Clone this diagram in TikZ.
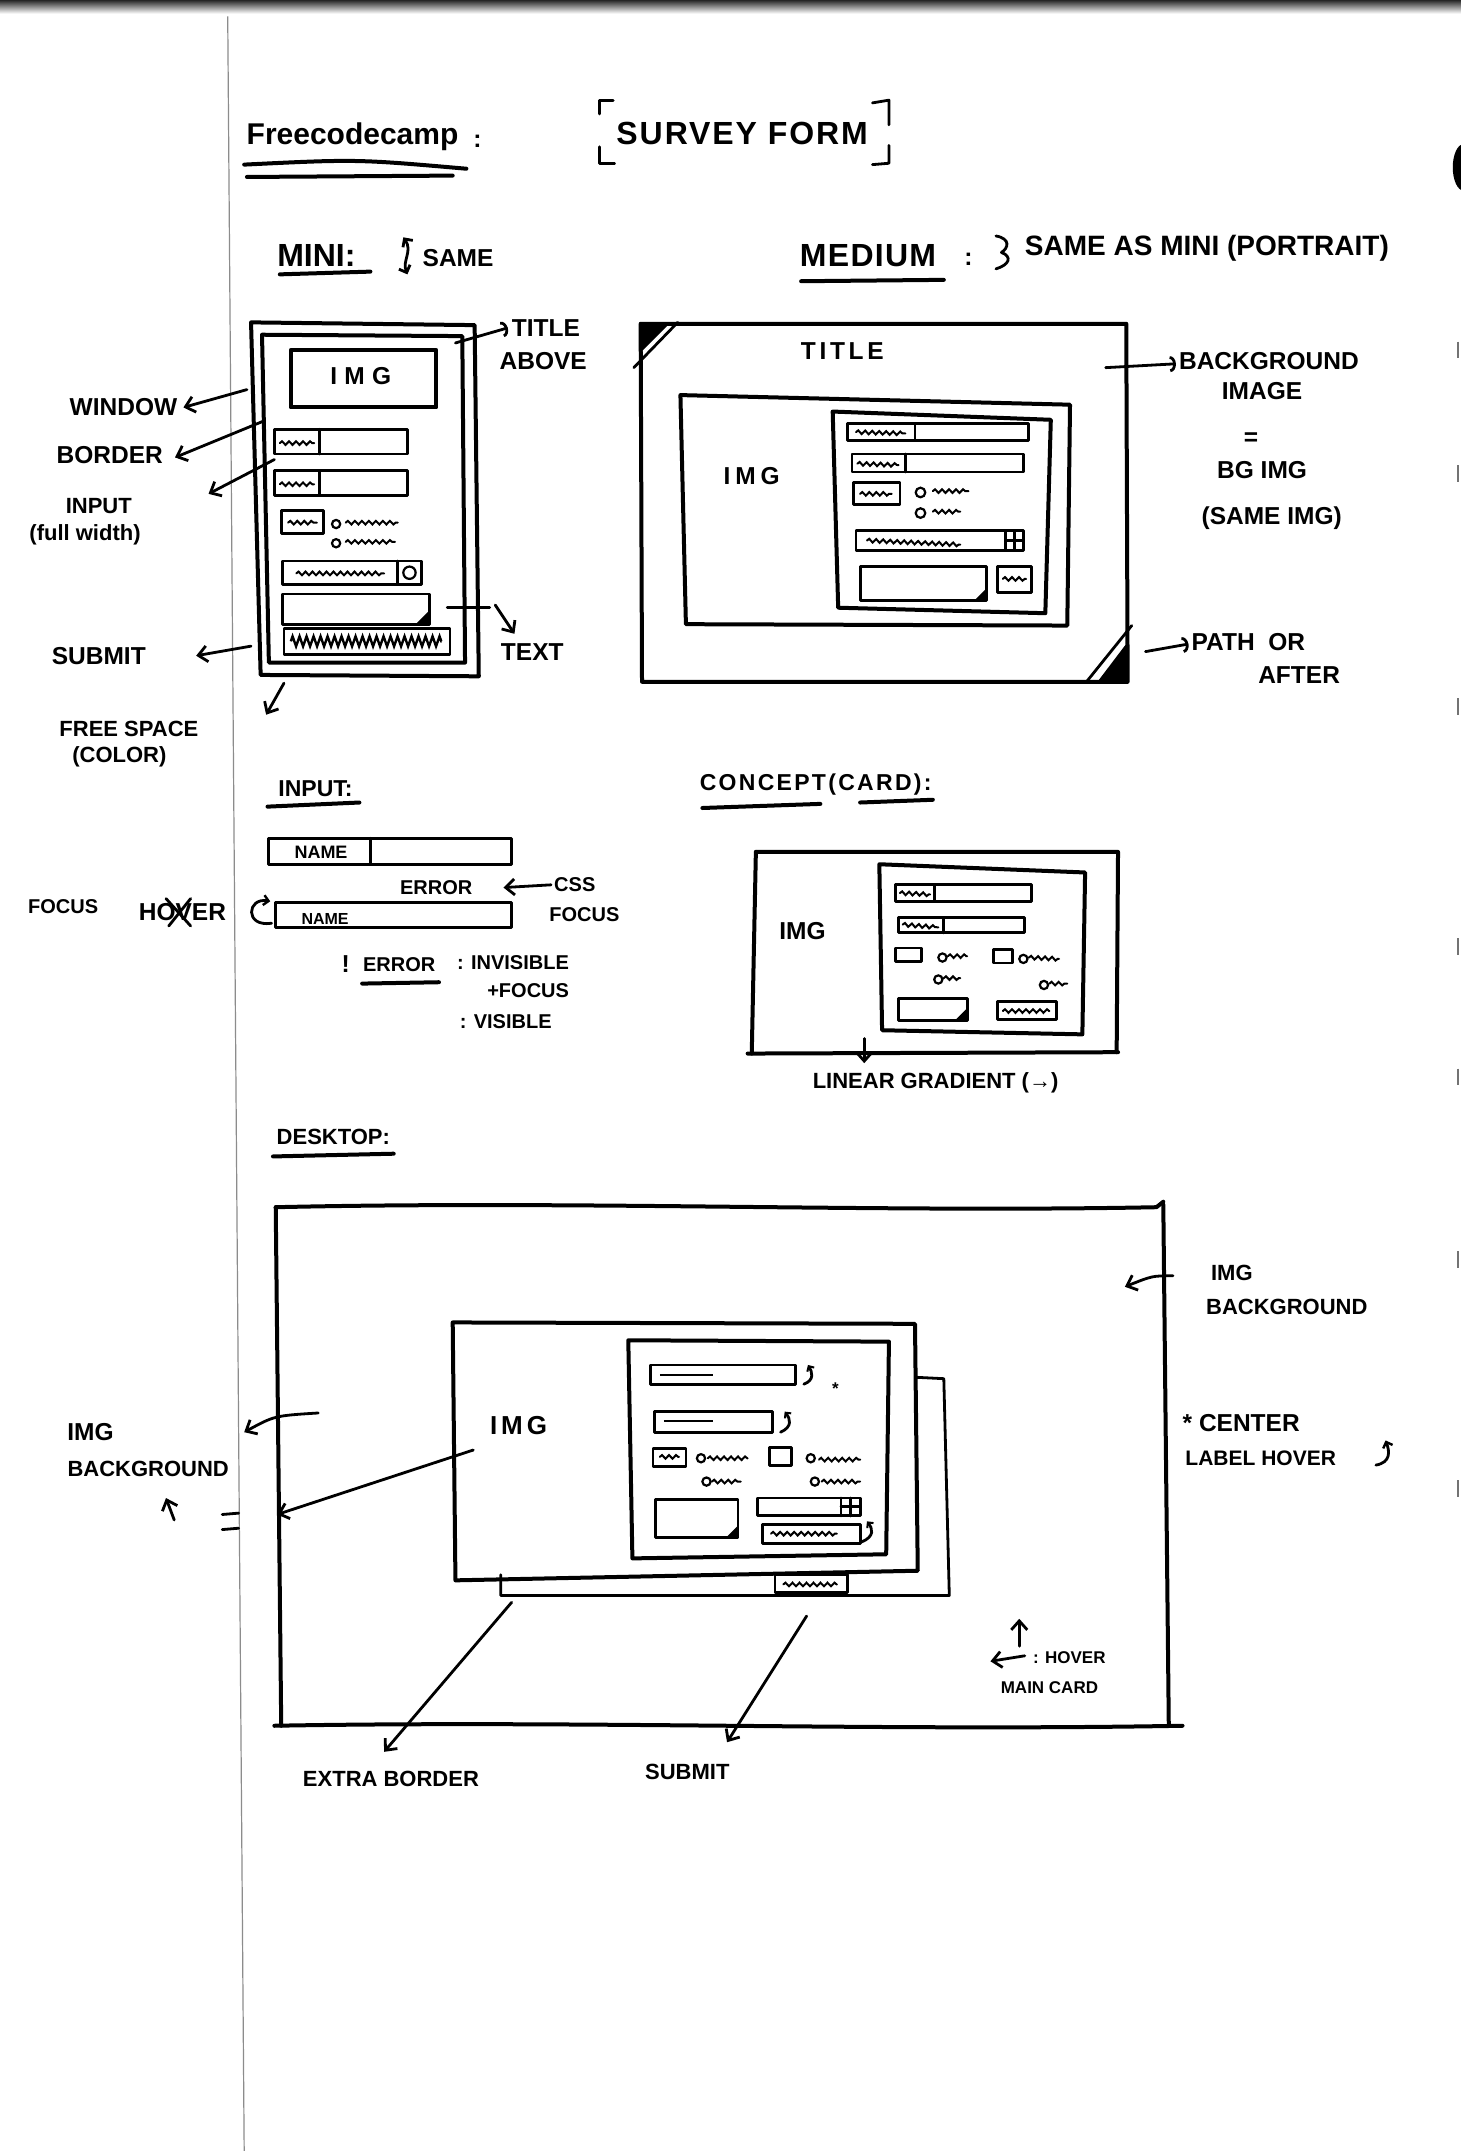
\documentclass[tikz,border=0pt]{standalone}
\usepackage{fontspec}
\setmainfont{Liberation Sans}
\usetikzlibrary{arrows.meta,decorations.pathmorphing,calc}
\newcommand{\fsz}[1]{\fontsize{#1}{#1}\selectfont\bfseries}
\tikzset{
 ln/.style={line width=4pt, line cap=round, line join=round},
 tln/.style={line width=2.8pt, line cap=round, line join=round},
 arr/.style={line width=2.8pt, line cap=round, -{Straight Barb[length=9pt,width=16pt,line width=2.8pt]}},
 carr/.style={line width=2.8pt, line cap=round, -{Arc Barb[length=6pt,width=16pt,line width=2.8pt]}},
 sq/.style={line width=2pt, line cap=round, decorate, decoration={snake, amplitude=1.8pt, segment length=7pt}},
 zz/.style={line width=2.4pt, decorate, decoration={zigzag, amplitude=5pt, segment length=7pt}},
 dot/.style={line width=2.2pt},
 fH/.style={inner sep=0pt, font=\fsz{32}},
 fM/.style={inner sep=0pt, font=\fsz{24.5}},
 fS/.style={inner sep=0pt, font=\fsz{20}},
 fXS/.style={inner sep=0pt, font=\fsz{17}},
}
\newcommand{\wide}[2]{{\addfontfeature{LetterSpace=#1}#2}}
\begin{document}
\begin{tikzpicture}[x=1.372pt,y=-1.372pt]
\useasboundingbox (0,0) rectangle (1065,1568);
\fill[white] (0,0) rectangle (1065,1568);
\shade[top color=black!85, bottom color=white] (0,0) rectangle (1065,10);
\draw[black!45, line width=1.2pt] (166,12) -- (178,1568);
% scan marks at right edge
\fill (1067,122) ellipse (8 and 17);
\foreach \yy in {255,345,515,690,785,918,1085}
  \draw[black!55, line width=1.6pt] (1063,\yy-6) -- (1063,\yy+6);

% ---------- header ----------
\node[fH, font=\fontsize{30}{30}\selectfont\bfseries] (fcc) at (257,100) {Freecodecamp};
\draw[ln] (178,120) .. controls (260,116) .. (340,123);
\draw[ln] (180,129) -- (330,128);
\node[fM] (colon) at (348,103) {:};
\node[fH] (survey) at (541,97) {\wide{6}{SURVEY FORM}};
\draw[tln] (437,83) -- (437,73) -- (447,73);
\draw[tln] (437,107) -- (437,119) -- (448,119);
\draw[tln] (636,75) -- (648,73) -- (648,91);
\draw[tln] (648,106) -- (648,119) -- (636,120);

\node[fH, anchor=west] (mini) at (202,186) {MINI:};
\draw[ln] (204,200) -- (270,198);
\draw[tln, {Straight Barb[length=6pt,width=12pt,line width=2.8pt]}-{Straight Barb[length=6pt,width=12pt,line width=2.8pt]}] (294,173) .. controls (301,183) and (293,190) .. (297,200);
\node[fM, anchor=west] (same1) at (308,188) {SAME};

\node[fH, anchor=west] (medium) at (583,186) {\wide{4}{MEDIUM}};
\draw[ln] (584,205) -- (688,204);
\node[fM] (colon2) at (706,189) {:};
\draw[tln] (726,172) .. controls (737,174) and (735,181) .. (730,184) .. controls (738,187) and (736,193) .. (726,196);
\node[fH, anchor=west, font=\fsz{28}] (sameas) at (747,181) {SAME AS MINI (PORTRAIT)};

% ---------- MINI wireframe ----------
\draw[ln] (183,235) -- (346,237) -- (349,493) -- (190,492) -- cycle;
\draw[ln] (191,244) -- (337,245) -- (339,483) -- (196,483) -- cycle;
\draw[ln] (212,255) rectangle (318,297);
\node[fM] (mimg) at (263,274) {\wide{30}{IMG}};
\draw[tln] (200,313) rectangle (297,331); \draw[tln] (233,313) -- (233,331);
\draw[sq] (204,323) -- (229,323);
\draw[tln] (200,343) rectangle (297,361); \draw[tln] (233,343) -- (233,361);
\draw[sq] (204,353) -- (229,353);
\draw[tln] (205,372) rectangle (236,389); \draw[sq] (210,381) -- (231,381);
\draw[dot] (245,382) circle (3); \draw[sq] (252,381) -- (290,381);
\draw[dot] (245,396) circle (3); \draw[sq] (252,395) -- (288,395);
\draw[tln] (206,409) rectangle (307,426); \draw[tln] (290,409) -- (290,426);
\draw[dot] (298.5,417.5) circle (4.5); \draw[sq] (216,418) -- (280,418);
\draw[tln] (206,433) rectangle (313,455); \fill (313,445) -- (313,455) -- (303,455) -- cycle;
\draw[tln] (207,458) rectangle (328,477); \draw[zz] (212,467.5) -- (322,467.5);

\node[fM] (ttl) at (398,239) {TITLE};
\node[fM] (abv) at (396,263) {ABOVE};
\draw[carr] (332,250) -- ([xshift=-4pt]ttl.west);
\node[fM] (win) at (90,297) {WINDOW};
\draw[arr] (180,284) -- ([xshift=6pt]win.east);
\node[fM] (bor) at (80,332) {BORDER};
\draw[arr] (192,307) -- ([xshift=12pt,yshift=-2pt]bor.east);
\node[fM, font=\fsz{22}] (inp) at (72,369) {INPUT};
\node[fM, font=\fsz{22}] (fw) at (62,390) {(full width)};
\draw[arr] (200,335) -- (152,360);
\node[fM] (sub) at (72,478) {SUBMIT};
\draw[arr] (183,471) -- (143,478);
\node[fM] (txt) at (388,475) {TEXT};
\draw[tln] (326,443) -- (357,443);
\draw[arr] (361,441) -- (375,462);
\node[fM, font=\fsz{22}] (fs1) at (94,531) {FREE SPACE};
\node[fM, font=\fsz{22}] (fs2) at (87,552) {(COLOR)};
\draw[arr] (207,498) -- (194,521);

% ---------- MEDIUM wireframe ----------
\draw[ln] (467,236) -- (821,236) -- (822,497) -- (468,497) -- cycle;
\fill (467,236) -- (488,236) -- (467,257) -- cycle; \draw[tln] (462,268) -- (494,235);
\fill (822,497) -- (800,497) -- (822,468) -- cycle; \draw[tln] (792,497) -- (825,456);
\node[fM] (mtitle) at (614,256) {\wide{15}{TITLE}};
\draw[ln] (496,288) -- (780,295) -- (778,456) -- (500,455) -- cycle;
\node[fM] (mdimg) at (548,347) {\wide{20}{IMG}};
\draw[ln] (607,300) -- (766,306) -- (762,447) -- (611,443) -- cycle;
\draw[tln] (618,309) rectangle (750,321); \draw[tln] (667,309) -- (667,321); \draw[sq] (624,315) -- (660,316);
\draw[tln] (621,331) rectangle (746,344); \draw[tln] (660,331) -- (660,344); \draw[sq] (625,338) -- (655,339);
\draw[tln] (622,352) rectangle (656,368); \draw[sq] (627,360) -- (650,360);
\draw[dot] (671,359) circle (3.5); \draw[sq] (680,358) -- (706,358);
\draw[dot] (671,374) circle (3.5); \draw[sq] (680,373) -- (700,373);
\draw[tln] (624,387) rectangle (746,401); \draw[tln] (733,387) -- (733,401);
\draw[tln] (739.5,387) -- (739.5,401); \draw[tln] (733,394) -- (746,394);
\draw[sq] (632,394) -- (700,397);
\draw[tln] (627,413) rectangle (719,438); \fill (719,429) -- (719,438) -- (710,438) -- cycle;
\draw[tln] (727,413) rectangle (752,432); \draw[sq] (731,422) -- (748,422);

\node[fM] (bg1) at (925,263) {BACKGROUND};
\node[fM] (bg2) at (920,285) {IMAGE};
\draw[carr] (806,268) -- ([xshift=-3pt,yshift=-3pt]bg1.west);
\node[fM] (eq1) at (912,320) {=};
\node[fM] (bgimg) at (920,343) {BG IMG};
\node[fM] (sameimg) at (927,378) {(SAME IMG)};
\node[fM] (path) at (910,468) {PATH\ \ OR};
\node[fM] (after) at (947,492) {AFTER};
\draw[carr] (835,475) -- ([xshift=-3pt,yshift=-2pt]path.west);

% ---------- INPUT ----------
\node[fM, font=\fsz{23}] (inputh) at (230,575) {INPUT:};
\draw[ln] (195,588) -- (262,585);
\draw[tln] (196,611) rectangle (373,630); \draw[tln] (270,611) -- (270,630);
\node[fS, font=\fsz{18}] (name1) at (234,621) {NAME};
\node[fS] (err1) at (318,647) {ERROR};
\node[fS] (css) at (419,645) {CSS};
\draw[arr] ([xshift=-3pt]css.west) -- (367,647);
\node[fS] (foc1) at (426,667) {FOCUS};
\draw[tln] (201,658) rectangle (373,676);
\node[fS, font=\fsz{16}] (name2) at (237,670) {NAME};
\node[fS] (foc2) at (46,661) {FOCUS};
\node[fM] (hover) at (133,665) {HOVER};
\draw[tln] (121,655) -- (139,675); \draw[tln] (139,655) -- (123,675);
\draw[tln, -{Straight Barb[length=5pt,width=10pt,line width=2.4pt]}] (198,673) .. controls (178,676) and (180,654) .. (197,657);
\node[fM] (excl) at (252,703) {!};
\node[fS] (err2) at (291,703) {ERROR};
\draw[ln] (264,717) -- (320,716);
\node[fS, anchor=west] (invis) at (333,702) {: INVISIBLE};
\node[fS] (pfoc) at (385,722) {+FOCUS};
\node[fS, anchor=west] (vis) at (335,745) {: VISIBLE};

% ---------- CONCEPT ----------
\node[fM, font=\fsz{23}, anchor=west] (concept) at (510,572) {\wide{10}{CONCEPT(CARD):}};
\draw[ln] (512,589) -- (598,586);
\draw[ln] (627,585) -- (680,583);
\draw[ln] (551,621) -- (815,621) -- (814,767);
\draw[ln] (545,768) -- (815,767);
\draw[ln] (551,621) -- (548,768);
\draw[ln] (641,630) -- (791,636) -- (789,754) -- (643,751) -- cycle;
\draw[tln] (653,645) rectangle (752,657); \draw[tln] (681,645) -- (681,657); \draw[sq] (656,651) -- (678,652);
\draw[tln] (655,669) rectangle (747,680); \draw[tln] (688,669) -- (688,680); \draw[sq] (658,674) -- (684,676);
\draw[tln] (653,691) rectangle (672,701); \draw[dot] (687,698) circle (3); \draw[sq] (691,697) -- (705,697);
\draw[tln] (724,692) rectangle (738,702); \draw[dot] (746,699) circle (3); \draw[sq] (750,698) -- (772,699);
\draw[dot] (684,714) circle (3); \draw[sq] (688,713) -- (700,713);
\draw[dot] (761,718) circle (3); \draw[sq] (765,717) -- (778,717);
\draw[tln] (655,728) rectangle (705,744); \fill (705,735) -- (705,744) -- (696,744) -- cycle;
\draw[tln] (727,730) rectangle (770,743); \draw[sq] (731,737) -- (765,737);
\node[fM] (cimg) at (585,679) {IMG};
\node[fS, font=\fsz{22}] (lin) at (682,789) {LINEAR GRADIENT (→)};
\draw[arr] (630,757) -- (630,775);

% ---------- DESKTOP ----------
\node[fM, font=\fsz{22}] (desk) at (243,829) {DESKTOP:};
\draw[ln] (199,843) -- (287,841);
\draw[ln] (201,880) .. controls (420,875) and (640,884) .. (843,880) -- (848,876);
\draw[ln] (848,878) -- (852,1258);
\draw[ln] (200,1258) .. controls (420,1254) and (640,1262) .. (862,1258);
\draw[ln] (201,880) -- (205,1258);
% back card (extra border)
\draw[tln] (668,1004) -- (688,1005) -- (692,1163) -- (365,1163) -- (365,1148);
% front card
\draw[ln] (330,964) -- (667,965) -- (669,1145) -- (332,1152) -- cycle;
\draw[ln] (458,977) -- (648,978) -- (646,1133) -- (461,1136) -- cycle;
\node[fM, font=\fsz{26}] (dimg) at (378,1039) {\wide{15}{IMG}};
\draw[tln] (474,995) rectangle (580,1009); \draw[line width=2pt] (481,1002) -- (520,1002);
\draw[tln, -{Straight Barb[length=4pt,width=8pt,line width=2pt]}] (586,1009) .. controls (594,1006) and (592,1000) .. (589,995);
\node[fXS] (star1) at (609,1012) {*};
\draw[tln] (477,1029) rectangle (563,1044); \draw[line width=2pt] (484,1036) -- (520,1036);
\draw[tln, -{Straight Barb[length=4pt,width=8pt,line width=2pt]}] (569,1044) .. controls (578,1040) and (576,1034) .. (572,1029);
\draw[tln] (476,1056) rectangle (500,1069); \draw[sq] (481,1062) -- (495,1062);
\draw[dot] (511,1063) circle (3); \draw[sq] (516,1063) -- (545,1063);
\draw[dot] (515,1080) circle (3); \draw[sq] (519,1080) -- (540,1080);
\draw[tln] (561,1055) rectangle (577,1068);
\draw[dot] (591,1063) circle (3); \draw[sq] (597,1064) -- (627,1064);
\draw[dot] (594,1080) circle (3); \draw[sq] (599,1080) -- (627,1080);
\draw[tln] (478,1093) rectangle (538,1121); \fill (538,1112) -- (538,1121) -- (529,1121) -- cycle;
\draw[tln] (552,1092) rectangle (627,1105); \draw[tln] (613,1092) -- (613,1105); \draw[tln] (620,1092) -- (620,1105); \draw[tln] (613,1098) -- (627,1098);
\draw[tln] (556,1111) rectangle (627,1125); \draw[sq] (562,1118) -- (610,1118);
\draw[tln, -{Straight Barb[length=4pt,width=8pt,line width=2pt]}] (628,1124) .. controls (638,1120) and (636,1114) .. (632,1109);
\draw[tln] (565,1148) rectangle (618,1161); \draw[sq] (571,1155) -- (610,1155);

\node[fM] (limg) at (66,1044) {IMG};
\node[fM, font=\fsz{22}] (lbg) at (108,1071) {BACKGROUND};
\draw[arr] (232,1030) .. controls (200,1032) .. (178,1044);
\draw[arr] (127,1108) -- (121,1092);
\draw[tln] (162,1104) -- (174,1103); \draw[tln] (162,1115) -- (174,1114);
\draw[arr] (345,1057) -- (202,1104);

\node[fM, font=\fsz{22}] (rimg) at (898,928) {IMG};
\node[fM, font=\fsz{22}] (rbg) at (938,953) {BACKGROUND};
\draw[arr] (855,930) .. controls (840,930) .. (820,938);
\node[fM, anchor=west] (center) at (862,1037) {* CENTER};
\node[fM, font=\fsz{21}, anchor=west] (lhover) at (864,1063) {LABEL HOVER};
\draw[tln, -{Straight Barb[length=5pt,width=10pt,line width=2.4pt]}] (1003,1068) .. controls (1014,1066) and (1013,1058) .. (1010,1050);
\draw[arr] (743,1200) -- (743,1180);
\draw[arr] (747,1207) -- (722,1211);
\node[fXS, anchor=west] (hovmc) at (753,1208) {: HOVER};
\node[fXS] (mcard) at (765,1230) {MAIN CARD};

\node[fM, font=\fsz{22}] (eb) at (285,1297) {EXTRA BORDER};
\draw[arr] (373,1168) -- (280,1277);
\node[fM, font=\fsz{22}] (dsub) at (501,1292) {SUBMIT};
\draw[arr] (588,1178) -- (530,1270);
\end{tikzpicture}
\end{document}
